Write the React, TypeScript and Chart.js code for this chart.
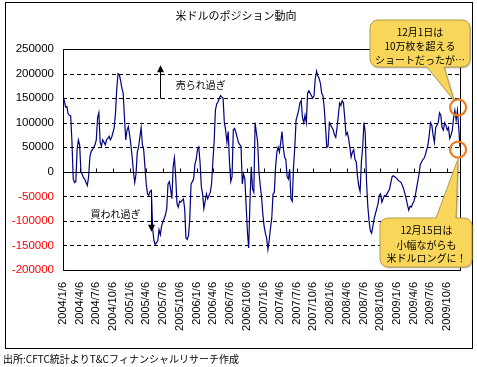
import React, { useEffect, useRef } from 'react';
import { Chart, registerables } from 'chart.js';
Chart.register(...registerables);

// Weekly CFTC USD net position, first week 2004/1/6, last 2009/12/15
const startDate = '2004/1/6';
const usdPosition = [
  150000, 145000, 132000, 133000, 118000, 115000, 114000, 60000, -15000, -22000,
  -20000, 45000, 65000, 55000, 0, -5000, -12000, -15000, -22000, -28000,
  -10000, 30000, 42000, 45000, 50000, 55000, 65000, 110000, 120000, 60000,
  52000, 65000, 60000, 55000, 65000, 68000, 72000, 65000, 70000, 80000,
  90000, 120000, 170000, 200000, 198000, 185000, 170000, 160000, 110000, 65000,
  85000, 92000, 75000, 55000, 30000, 0, -22000, -5000, 40000, 50000,
  70000, 90000, 55000, 45000, 10000, -25000, -45000, -48000, -40000, -38000,
  -115000, -140000, -148000, -145000, -140000, -118000, -128000, -110000, -102000, -95000,
  -88000, -75000, -25000, -20000, -35000, -55000, 10000, 28000, -10000, -65000,
  -72000, -60000, -62000, -58000, -55000, -75000, -135000, -138000, -130000, -95000,
  -25000, -20000, -15000, 15000, 25000, 45000, 50000, 20000, -30000, -45000,
  -75000, -60000, -45000, -55000, -48000, -42000, -25000, 20000, 60000, 125000,
  138000, 142000, 150000, 155000, 152000, 150000, 100000, 85000, 60000, 82000,
  20000, -20000, -10000, 86000, 88000, 80000, 70000, 60000, 55000, 52000,
  -25000, -5000, -15000, -68000, -122000, -155000, -60000, 10000, -35000, -42000,
  100000, 80000, 60000, 0, -28000, -50000, -85000, -110000, -125000, -135000,
  -158000, -140000, -115000, -95000, -45000, -42000, 10000, 40000, 50000, 40000,
  60000, 82000, 50000, 30000, 25000, -10000, -15000, 5000, -55000, -60000,
  10000, 50000, 105000, 115000, 125000, 140000, 145000, 110000, 100000, 115000,
  100000, 160000, 165000, 160000, 155000, 150000, 155000, 190000, 205000, 195000,
  190000, 180000, 160000, 155000, 130000, 90000, 50000, 52000, 100000, 95000,
  90000, 85000, 75000, 70000, 90000, 115000, 140000, 135000, 145000, 140000,
  110000, 75000, 80000, 68000, 50000, 30000, 40000, 45000, 25000, 20000,
  -10000, -30000, -40000, 20000, 50000, 100000, 80000, -20000, -70000, -100000,
  -120000, -125000, -110000, -95000, -85000, -75000, -65000, -48000, -45000, -62000,
  -55000, -48000, -50000, -45000, -40000, -35000, -22000, -10000, -8000, -10000,
  -12000, -15000, -18000, -20000, -22000, -28000, -35000, -45000, -55000, -68000,
  -78000, -70000, -72000, -65000, -60000, -50000, -35000, -20000, -5000, 15000,
  20000, 25000, 28000, 35000, 45000, 55000, 75000, 100000, 95000, 75000,
  60000, 90000, 95000, 100000, 120000, 115000, 90000, 85000, 100000, 95000,
  85000, 90000, 68000, 75000, 85000, 110000, 125000, 105000, 125000, 90000,
  50000,
];

const tickLabels = [
  '2004/1/6', '2004/4/6', '2004/7/6', '2004/10/6',
  '2005/1/6', '2005/4/6', '2005/7/6', '2005/10/6',
  '2006/1/6', '2006/4/6', '2006/7/6', '2006/10/6',
  '2007/1/6', '2007/4/6', '2007/7/6', '2007/10/6',
  '2008/1/6', '2008/4/6', '2008/7/6', '2008/10/6',
  '2009/1/6', '2009/4/6', '2009/7/6', '2009/10/6',
];

const yTickValues = [-200000, -150000, -100000, -50000, 0, 50000, 100000, 150000, 200000, 250000];

const titleText = '米ドルのポジション動向';
const sourceText = '出所:CFTC統計よりT&Cフィナンシャルリサーチ作成';
const overSoldText = '売られ過ぎ';
const overBoughtText = '買われ過ぎ';
const callout1Lines = ['12月1日は', '10万枚を超える', 'ショートだったが…'];
const callout2Lines = ['12月15日は', '小幅ながらも', '米ドルロングに！'];

const parseDate = (s: string) => {
  const [y, m, d] = s.split('/').map(Number);
  return Date.UTC(y, m - 1, d);
};
const weekOf = (s: string) => (parseDate(s) - parseDate(startDate)) / (7 * 86400000);
const tickPositions = tickLabels.map(weekOf);

const JP = '"Noto Sans CJK JP", sans-serif';
const NUM = '"Liberation Sans", "Noto Sans CJK JP", sans-serif';

function calloutPath(
  ctx: CanvasRenderingContext2D,
  l: number, t: number, r: number, b: number, rad: number,
  side: 'top' | 'bottom', x1: number, x2: number, tx: number, ty: number,
) {
  ctx.beginPath();
  ctx.moveTo(l + rad, t);
  if (side === 'top') { ctx.lineTo(x1, t); ctx.lineTo(tx, ty); ctx.lineTo(x2, t); }
  ctx.lineTo(r - rad, t);
  ctx.arcTo(r, t, r, t + rad, rad);
  ctx.lineTo(r, b - rad);
  ctx.arcTo(r, b, r - rad, b, rad);
  if (side === 'bottom') { ctx.lineTo(x2, b); ctx.lineTo(tx, ty); ctx.lineTo(x1, b); }
  ctx.lineTo(l + rad, b);
  ctx.arcTo(l, b, l, b - rad, rad);
  ctx.lineTo(l, t + rad);
  ctx.arcTo(l, t, l + rad, t, rad);
  ctx.closePath();
}

const decorPlugin = {
  id: 'decor',
  beforeDatasetsDraw(chart: any) {
    const { ctx, chartArea: a, scales } = chart;
    const y = scales.y;
    const x = scales.x;
    ctx.save();
    ctx.strokeStyle = '#000';
    ctx.lineWidth = 1;
    ctx.setLineDash([4, 3]);
    for (const v of yTickValues) {
      if (v === 0 || v === yTickValues[0] || v === yTickValues[yTickValues.length - 1]) continue;
      const py = Math.round(y.getPixelForValue(v)) + 0.5;
      ctx.beginPath();
      ctx.moveTo(a.left, py);
      ctx.lineTo(a.right, py);
      ctx.stroke();
    }
    ctx.setLineDash([]);
    const zy = Math.round(y.getPixelForValue(0)) + 0.5;
    ctx.beginPath();
    ctx.moveTo(a.left, zy);
    ctx.lineTo(a.right, zy);
    for (const tp of tickPositions) {
      const px = Math.round(x.getPixelForValue(tp)) + 0.5;
      ctx.moveTo(px, zy - 4);
      ctx.lineTo(px, zy);
    }
    ctx.stroke();
    ctx.restore();
  },
  afterDatasetsDraw(chart: any) {
    const { ctx, chartArea: a, scales } = chart;
    const x = scales.x;
    const y = scales.y;
    ctx.save();
    // plot border
    ctx.strokeStyle = '#000';
    ctx.lineWidth = 1;
    ctx.strokeRect(Math.round(a.left) + 0.5, Math.round(a.top) + 0.5, Math.round(a.right - a.left), Math.round(a.bottom - a.top));

    // up arrow (売られ過ぎ)
    const ax1 = Math.round(x.getPixelForValue(76)) + 0.5;
    const ayB = y.getPixelForValue(149000);
    const ayT = y.getPixelForValue(217000);
    ctx.beginPath();
    ctx.moveTo(ax1, ayB);
    ctx.lineTo(ax1, ayT + 6);
    ctx.stroke();
    ctx.fillStyle = '#000';
    ctx.beginPath();
    ctx.moveTo(ax1, ayT);
    ctx.lineTo(ax1 - 3.5, ayT + 7);
    ctx.lineTo(ax1 + 3.5, ayT + 7);
    ctx.closePath();
    ctx.fill();

    // down arrow (買われ過ぎ)
    const ax2 = Math.round(x.getPixelForValue(69)) + 0.5;
    const dyT = y.getPixelForValue(-50000);
    const dyB = y.getPixelForValue(-122000);
    ctx.beginPath();
    ctx.moveTo(ax2, dyT);
    ctx.lineTo(ax2, dyB - 6);
    ctx.stroke();
    ctx.beginPath();
    ctx.moveTo(ax2, dyB);
    ctx.lineTo(ax2 - 3.5, dyB - 7);
    ctx.lineTo(ax2 + 3.5, dyB - 7);
    ctx.closePath();
    ctx.fill();

    ctx.font = `10px ${JP}`;
    ctx.fillStyle = '#000';
    ctx.textAlign = 'left';
    ctx.textBaseline = 'middle';
    ctx.fillText(overSoldText, x.getPixelForValue(88), y.getPixelForValue(176000));
    ctx.fillText(overBoughtText, x.getPixelForValue(21.5), y.getPixelForValue(-87000));

    // chart frame
    ctx.strokeStyle = '#000';
    ctx.lineWidth = 1;
    ctx.strokeRect(5.5, 2.5, 467, 346);

    // title
    ctx.font = `11px ${JP}`;
    ctx.textAlign = 'center';
    ctx.fillText(titleText, 236, 16);

    // source
    ctx.font = `10px ${JP}`;
    ctx.textAlign = 'left';
    ctx.fillText(sourceText, 3, 359);

    // circles
    const cx = x.getPixelForValue(308.5);
    const c1y = y.getPixelForValue(131000);
    const c2y = y.getPixelForValue(45000);
    ctx.strokeStyle = '#F07A1E';
    ctx.lineWidth = 2.2;
    ctx.beginPath();
    ctx.arc(cx, c1y, 8, 0, Math.PI * 2);
    ctx.stroke();
    ctx.beginPath();
    ctx.arc(cx, c2y, 8, 0, Math.PI * 2);
    ctx.stroke();

    // callouts
    const drawCallout = (l: number, t: number, r: number, b: number, side: 'top' | 'bottom', x1: number, x2: number, tx: number, ty: number, lines: string[], cxT: number, ys: number[]) => {
      ctx.save();
      calloutPath(ctx, l, t, r, b, 8, side, x1, x2, tx, ty);
      ctx.shadowColor = 'rgba(0,0,0,0.35)';
      ctx.shadowBlur = 2;
      ctx.shadowOffsetX = 1;
      ctx.shadowOffsetY = 1;
      ctx.fillStyle = '#F7D65A';
      ctx.fill();
      ctx.shadowColor = 'transparent';
      ctx.strokeStyle = '#B89B4A';
      ctx.lineWidth = 1;
      ctx.stroke();
      ctx.fillStyle = '#000';
      ctx.font = `10px ${JP}`;
      ctx.textAlign = 'center';
      ctx.textBaseline = 'middle';
      lines.forEach((ln, i) => ctx.fillText(ln, cxT, ys[i]));
      ctx.restore();
    };
    drawCallout(370, 20, 470, 67, 'bottom', 427, 444, cx - 4, c1y - 7, callout1Lines, 420, [32, 46.5, 60]);
    drawCallout(380, 218, 472, 267, 'top', 436, 456, cx, c2y + 9, callout2Lines, 426.5, [230, 245, 258.5]);
    ctx.restore();
  },
};

export default function App() {
  const ref = useRef<HTMLCanvasElement | null>(null);
  useEffect(() => {
    if (!ref.current) return;
    const points = usdPosition.map((v, i) => ({ x: i, y: v }));
    const chart = new Chart(ref.current, {
      type: 'line',
      data: {
        datasets: [{
          data: points,
          borderColor: '#000080',
          borderWidth: 1.2,
          pointRadius: 0,
          tension: 0,
          fill: false,
        }],
      },
      options: {
        responsive: false,
        animation: false,
        layout: { padding: { top: 49, right: 17, left: 0, bottom: 0 } },
        plugins: { legend: { display: false }, title: { display: false }, tooltip: { enabled: false } },
        scales: {
          x: {
            type: 'linear',
            min: 0,
            max: usdPosition.length - 1,
            grid: { display: false, drawTicks: false },
            border: { display: false },
            afterBuildTicks: (s: any) => { s.ticks = tickPositions.map((v) => ({ value: v })); },
            afterFit: (s: any) => { s.height = 97; },
            ticks: {
              autoSkip: false,
              maxRotation: 90,
              minRotation: 90,
              padding: 12,
              color: '#000',
              font: { family: NUM, size: 11 },
              callback: (_v: any, i: number) => tickLabels[i],
            },
          },
          y: {
            min: yTickValues[0],
            max: yTickValues[yTickValues.length - 1],
            grid: { display: false, drawTicks: false },
            border: { display: false },
            afterBuildTicks: (s: any) => { s.ticks = yTickValues.map((v) => ({ value: v })); },
            afterFit: (s: any) => { s.width = 63; },
            ticks: {
              padding: 9,
              color: (c: any) => (c.tick && c.tick.value < 0 ? '#FF0000' : '#000000'),
              font: { family: NUM, size: 11.5 },
              callback: (v: any) => String(v),
            },
          },
        },
      },
      plugins: [decorPlugin],
    } as any);
    return () => chart.destroy();
  }, []);
  return (
    <div style={{ position: 'absolute', left: 0, top: 0, width: 477, height: 367, background: '#fff' }}>
      <canvas ref={ref} width={477} height={367} style={{ display: 'block', width: 477, height: 367 }} />
    </div>
  );
}
